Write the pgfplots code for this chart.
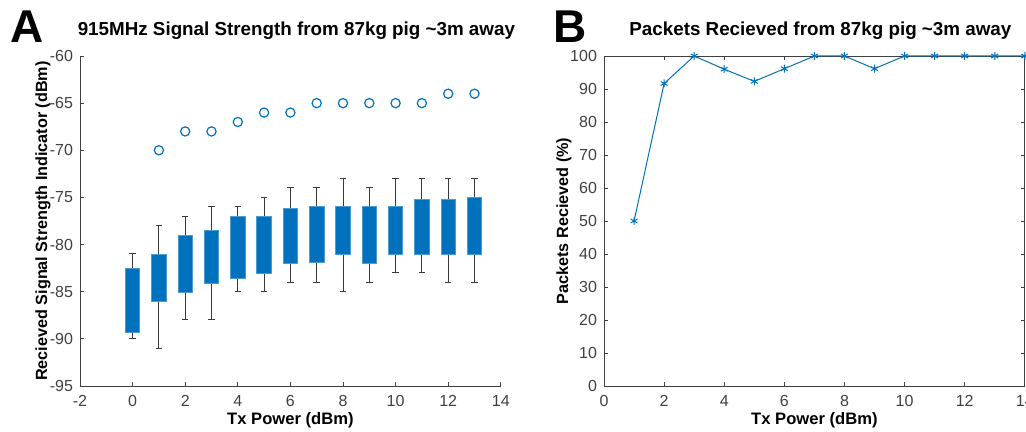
\documentclass[border=0pt]{standalone}
\usepackage{fontspec}
\setmainfont{Liberation Sans}
\usepackage{pgfplots}
\pgfplotsset{compat=1.18}
\usepgfplotslibrary{statistics}
\definecolor{mblue}{HTML}{0072BD}
\definecolor{axgray}{HTML}{404040}
\definecolor{wgray}{HTML}{3A3A3A}

\pgfplotsset{
  mstyle/.style={
    scale only axis, width=210.4pt, height=165pt,
    tick align=inside, major tick length=2pt,
    axis line style={axgray, line width=0.4pt},
    every tick/.style={axgray, line width=0.4pt},
    tick label style={font=\fontsize{8}{9.6}\selectfont, text=axgray},
    xticklabel style={yshift=-1pt},
    /pgf/number format/assume math mode=true,
    xlabel style={font=\bfseries\fontsize{8.3}{10}\selectfont,
      at={(axis description cs:0.5,-0.104)}, anchor=center},
    ylabel style={font=\bfseries\fontsize{8.1}{10}\selectfont, anchor=center},
    title style={font=\bfseries\fontsize{9.4}{11}\selectfont, anchor=base,
      at={(0.5,1)}, yshift=4pt, xshift=3pt},
  },
}
% position, lower whisker, lower quartile, upper quartile, upper whisker
\newcommand{\bx}[5]{\addplot[wgray, line width=0.5pt,
  boxplot prepared={draw position=#1, lower whisker=#2, lower quartile=#3,
    median=#3, upper quartile=#4, upper whisker=#5}] coordinates {};}

\begin{document}
\begin{tikzpicture}
\useasboundingbox (-40pt,-23pt) rectangle (473pt,193pt);

\begin{axis}[mstyle, at={(0,0)},
  axis lines*=left,
  xmin=-2, xmax=14, ymin=-95, ymax=-60,
  xtick={-2,0,...,14}, ytick={-95,-90,...,-60},
  title={915MHz Signal Strength from 87kg pig \textasciitilde3m away},
  xlabel={Tx Power (dBm)},
  ylabel={Recieved Signal Strength Indicator (dBm)},
  ylabel style={at={(axis description cs:-0.088,0.5)}},
  boxplot/draw direction=y,
  boxplot/box extend=0.55, boxplot/whisker extend=0.25,
  boxplot/every box/.style={fill=mblue, draw=mblue!70!white, line width=0.4pt},
  boxplot/every median/.style={draw=none},
]
\bx{0}{-90}{-89.35}{-82.5}{-81}
\bx{1}{-91}{-86.05}{-81}{-78}
\bx{2}{-88}{-85.05}{-79}{-77}
\bx{3}{-88}{-84.1}{-78.5}{-76}
\bx{4}{-85}{-83.6}{-77}{-76}
\bx{5}{-85}{-83.1}{-77}{-75}
\bx{6}{-84}{-82.05}{-76.2}{-74}
\bx{7}{-84}{-81.85}{-76}{-74}
\bx{8}{-85}{-81}{-76}{-73}
\bx{9}{-84}{-82.05}{-76}{-74}
\bx{10}{-83}{-81}{-76}{-73}
\bx{11}{-83}{-81}{-75.2}{-73}
\bx{12}{-84}{-81}{-75.2}{-73}
\bx{13}{-84}{-81}{-75}{-73}
\addplot[only marks, mark=o, mark size=2.3pt, mblue, mark options={line width=0.6pt}]
  coordinates {(1,-70)(2,-68)(3,-68)(4,-67)(5,-66)(6,-66)(7,-65)(8,-65)(9,-65)(10,-65)(11,-65)(12,-64)(13,-64)};
\end{axis}

\begin{axis}[mstyle, at={(262pt,0)},
  clip=false,
  xmin=0, xmax=14, ymin=0, ymax=100,
  xtick={0,2,...,14}, ytick={0,10,...,100},
  title={Packets Recieved from 87kg pig \textasciitilde3m away},
  xlabel={Tx Power (dBm)},
  ylabel={Packets Recieved (\%)},
  ylabel style={at={(axis description cs:-0.095,0.5)}},
]
\addplot[mblue, line width=0.5pt, mark=asterisk, mark size=2pt]
  coordinates {(1,50)(2,91.67)(3,100)(4,96)(5,92.31)(6,96.15)(7,100)(8,100)(9,96.15)(10,100)(11,100)(12,100)(13,100)(14,100)};
\end{axis}

\node[anchor=base, font=\bfseries\fontsize{23}{23}\selectfont] at (-26.5pt,171.5pt) {A};
\node[anchor=base, font=\bfseries\fontsize{23}{23}\selectfont] at (245pt,171.5pt) {B};
\end{tikzpicture}
\end{document}
